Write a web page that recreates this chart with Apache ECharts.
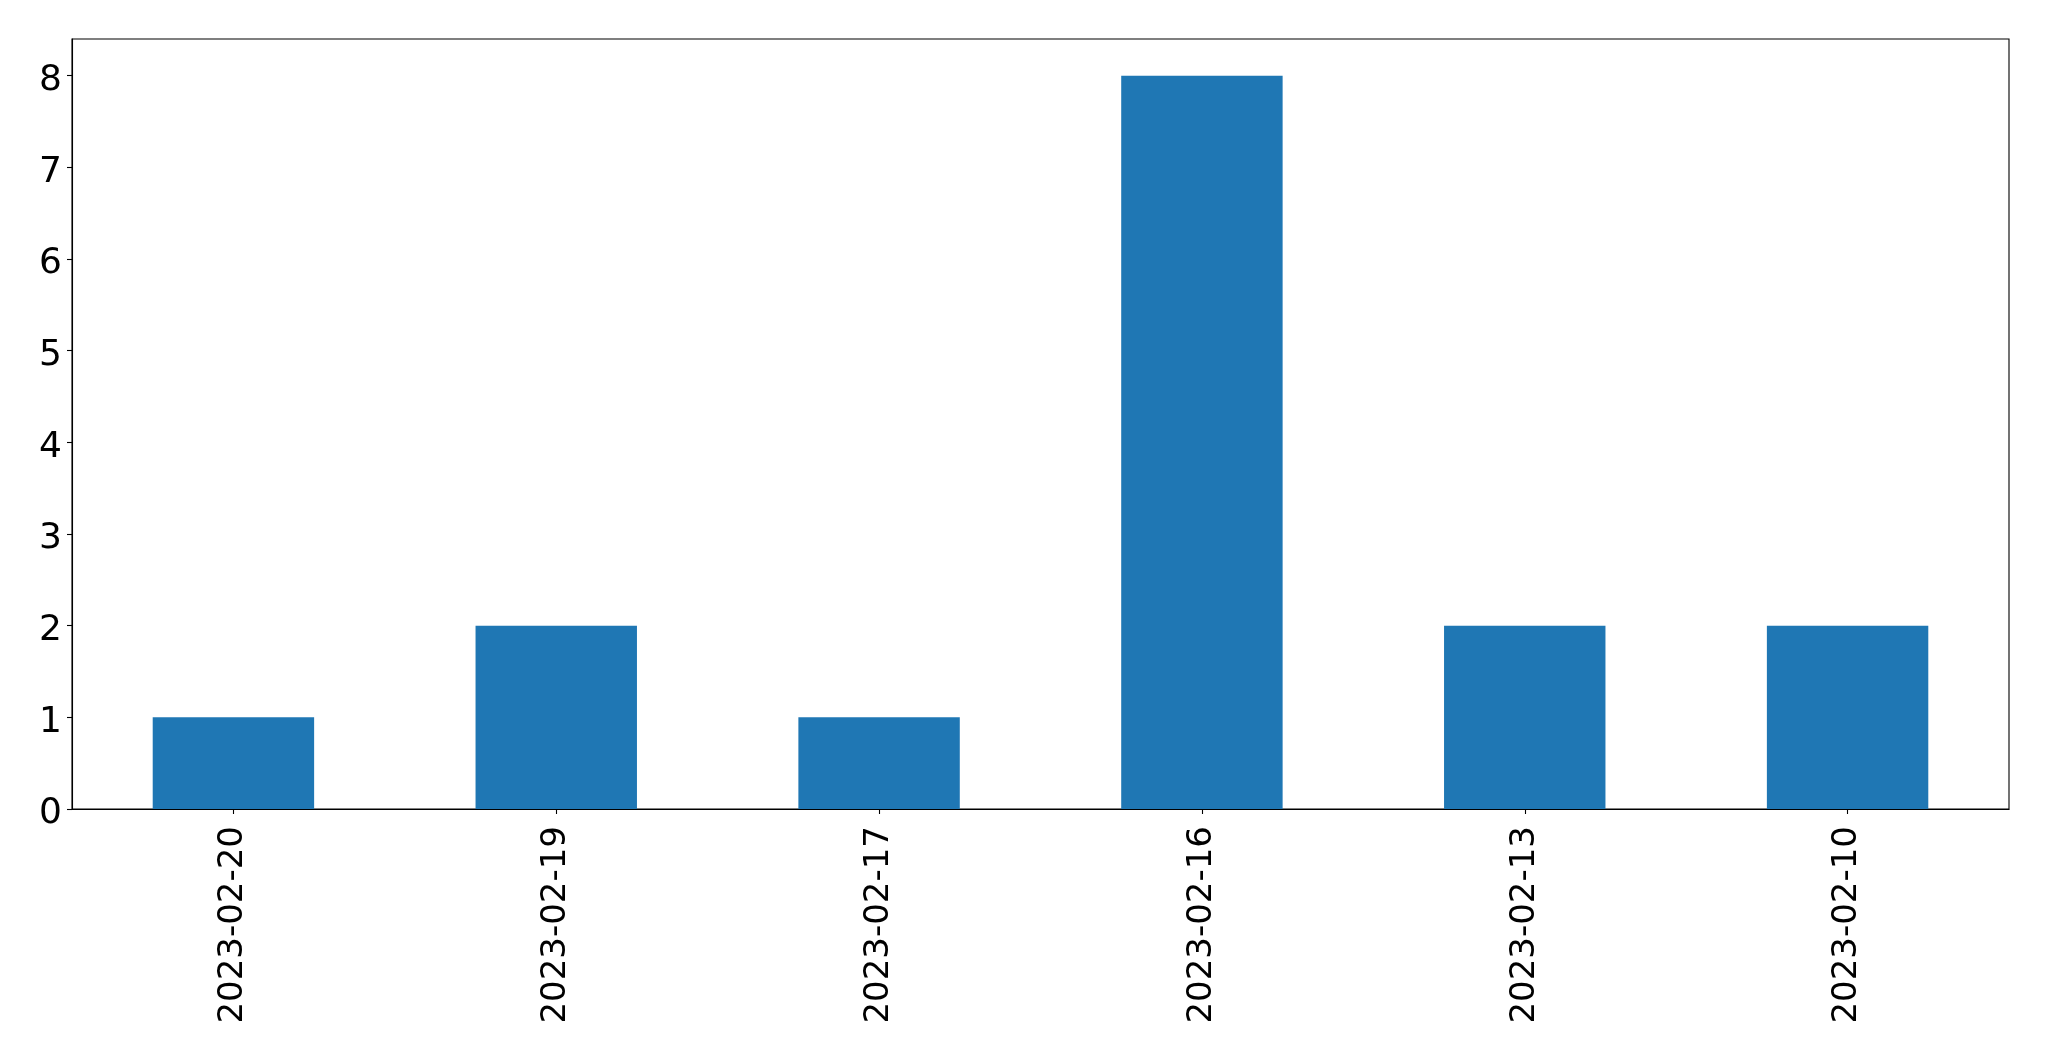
<!DOCTYPE html>
<html>
<head>
<meta charset="utf-8">
<script src="https://cdn.jsdelivr.net/npm/echarts@6/dist/echarts.min.js"></script>
<style>html,body{margin:0;padding:0;background:#fff}#c{width:2049px;height:1061px}</style>
</head>
<body>
<div id="c"></div>
<script>
const categories = ["2023-02-20", "2023-02-19", "2023-02-17", "2023-02-16", "2023-02-13", "2023-02-10"];
const values = [1, 2, 1, 8, 2, 2];
const yTicks = [0, 1, 2, 3, 4, 5, 6, 7, 8];

const chart = echarts.init(document.getElementById('c'), null, {renderer: 'canvas'});
const font = 'DejaVu Sans';
chart.setOption({
  animation: false,
  backgroundColor: '#ffffff',
  grid: {left: 72, top: 39, right: 40, bottom: 252, show: true, borderColor: '#000', borderWidth: 1.1, backgroundColor: 'transparent'},
  xAxis: {
    type: 'category',
    data: categories,
    axisLine: {show: true, lineStyle: {color: '#000', width: 1.1}},
    axisTick: {show: true, alignWithLabel: true, length: 5, lineStyle: {color: '#000', width: 1.1}},
    axisLabel: {rotate: 90, margin: 17, color: '#000', fontFamily: font, fontSize: 34, interval: 0},
    splitLine: {show: false}
  },
  yAxis: {
    type: 'value',
    min: 0,
    max: 8.4,
    interval: 1,
    axisLine: {show: true, lineStyle: {color: '#000', width: 1.1}},
    axisTick: {show: true, length: 5, lineStyle: {color: '#000', width: 1.1}},
    axisLabel: {
      margin: 10, color: '#000', fontFamily: font, fontSize: 36,
      showMaxLabel: false,
      formatter: v => yTicks.includes(v) ? '{t|' + v + '}' : '',
      rich: {t: {fontFamily: font, fontSize: 36, color: '#000', padding: [10, 0, 0, 0]}}
    },
    splitLine: {show: false}
  },
  series: [{
    type: 'bar',
    data: values,
    barWidth: '50%',
    itemStyle: {color: '#1f77b4'}
  }]
});
</script>
</body>
</html>
